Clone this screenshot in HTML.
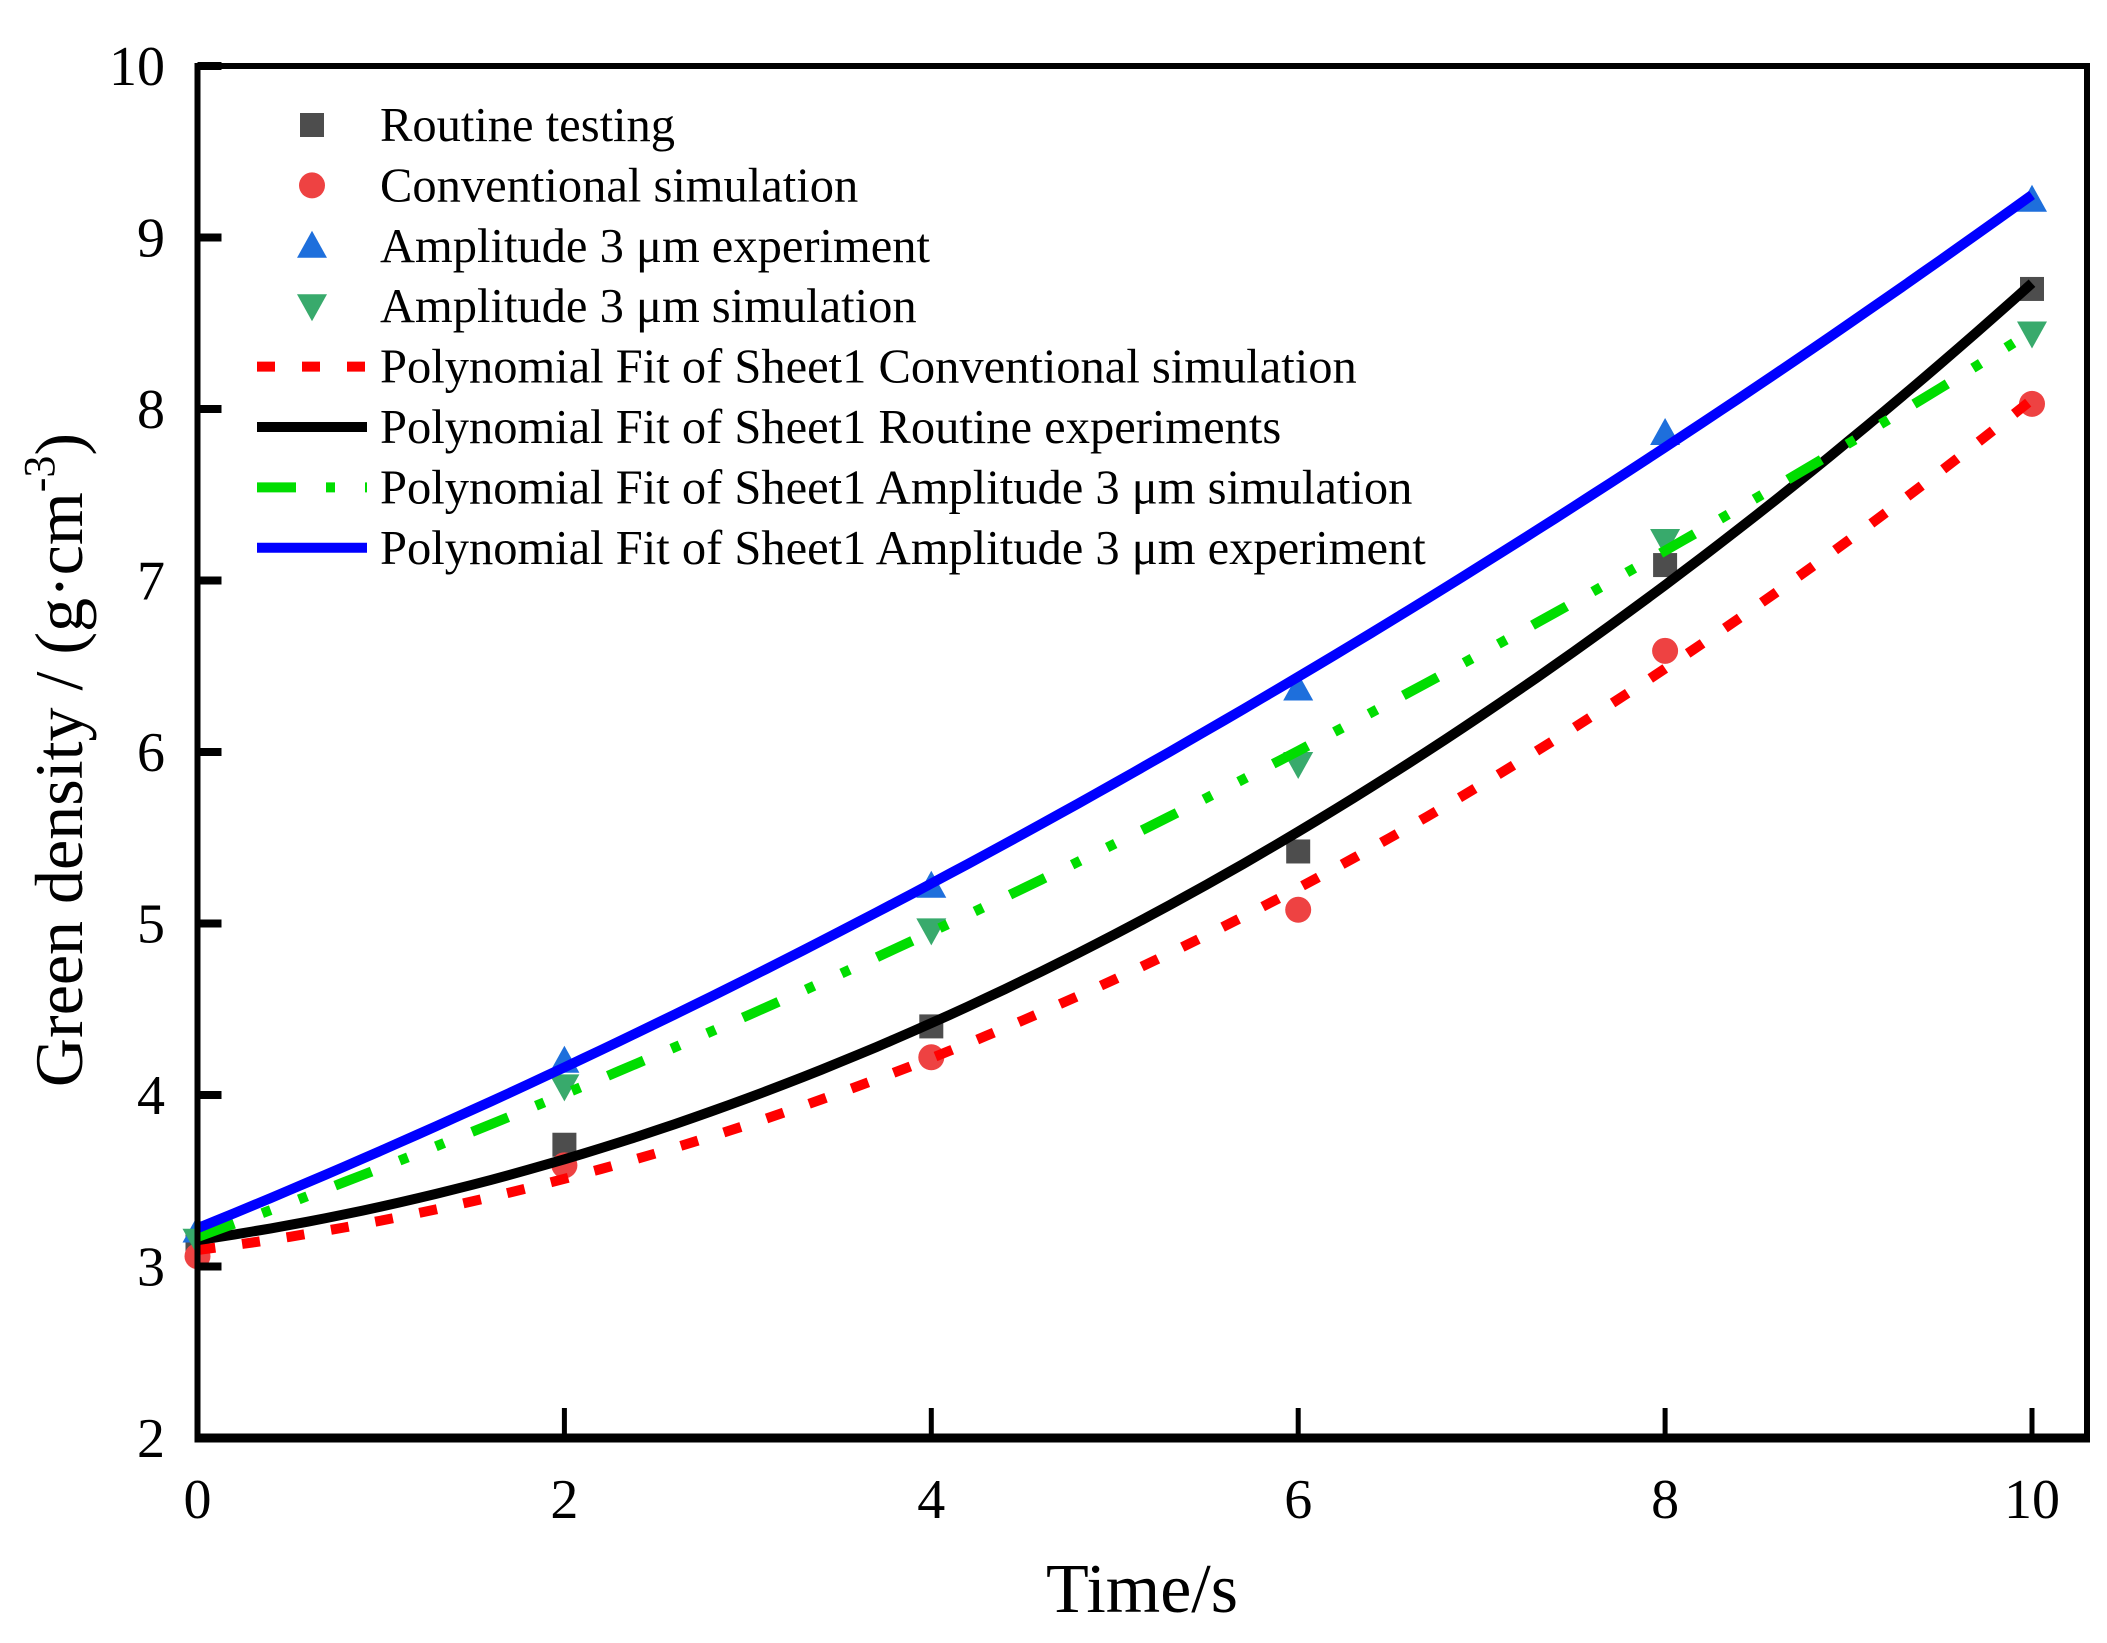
<!DOCTYPE html>
<html><head><meta charset="utf-8"><style>
html,body{margin:0;padding:0;background:#fff;}
svg{display:block;font-family:"Liberation Serif",serif;}
</style></head><body>
<svg id="chart" width="2107" height="1643" viewBox="0 0 2107 1643">
<g id="marks"></g>
<g id="fits"></g>
<g id="axes"></g>
<g id="legend"></g>
</svg>
<script>
const xValues = [0, 2, 4, 6, 8, 10];
const routineTesting = [3.12, 3.71, 4.40, 5.42, 7.09, 8.70];
const conventionalSim = [3.06, 3.59, 4.22, 5.08, 6.59, 8.03];
const ampExperiment = [3.21, 4.20, 5.22, 6.37, 7.86, 9.22];
const ampSimulation = [3.15, 4.05, 4.96, 5.93, 7.23, 8.44];
const xTicks = [0, 2, 4, 6, 8, 10];
const yTicks = [2, 3, 4, 5, 6, 7, 8, 9, 10];
const legendLabels = ["Routine testing","Conventional simulation","Amplitude 3 \u03bcm experiment","Amplitude 3 \u03bcm simulation","Polynomial Fit of Sheet1 Conventional simulation","Polynomial Fit of Sheet1 Routine experiments","Polynomial Fit of Sheet1 Amplitude 3 \u03bcm simulation","Polynomial Fit of Sheet1 Amplitude 3 \u03bcm experiment"];

const NS = "http://www.w3.org/2000/svg";
const X0 = 197.5, X1 = 2032, Y0 = 1438, Y1 = 66, FR = 2087;
function sx(v){ return X0 + (v - 0) / 10 * (X1 - X0); }
function sy(v){ return Y0 - (v - 2) / 8 * (Y0 - Y1); }
function mk(tag, attrs, parent){ const e = document.createElementNS(NS, tag); for (const k in attrs) e.setAttribute(k, attrs[k]); parent.appendChild(e); return e; }

function quadFit(xs, ys){
  let S=[0,0,0,0,0], T=[0,0,0];
  for (let i=0;i<xs.length;i++){ let p=1; for(let k=0;k<5;k++){S[k]+=p; if(k<3)T[k]+=p*ys[i]; p*=xs[i];} }
  const A=[[S[0],S[1],S[2],T[0]],[S[1],S[2],S[3],T[1]],[S[2],S[3],S[4],T[2]]];
  for(let i=0;i<3;i++){ for(let j=i+1;j<3;j++){ const f=A[j][i]/A[i][i]; for(let k=i;k<4;k++)A[j][k]-=f*A[i][k]; } }
  const c=[0,0,0];
  for(let i=2;i>=0;i--){ let s=A[i][3]; for(let k=i+1;k<3;k++)s-=A[i][k]*c[k]; c[i]=s/A[i][i]; }
  return x=>c[0]+c[1]*x+c[2]*x*x;
}

const marks = document.getElementById('marks');
function drawMarker(type, cx, cy, parent){
  let e;
  if (type==='square'){ e = mk('rect',{x:cx-12,y:cy-12,width:24,height:24,fill:'#4d4d4d'},parent); }
  else if (type==='circle'){ e = mk('circle',{cx:cx,cy:cy,r:13,fill:'#ee4242'},parent); }
  else if (type==='up'){ e = mk('polygon',{points:`${cx},${cy-15} ${cx-15},${cy+12} ${cx+15},${cy+12}`,fill:'#1e6fdc'},parent); }
  else { e = mk('polygon',{points:`${cx},${cy+15} ${cx-15},${cy-12} ${cx+15},${cy-12}`,fill:'#38aa6c'},parent); }
  return e;
}
const series = [
  {vals: routineTesting, type:'square', name:'routine-testing-point'},
  {vals: conventionalSim, type:'circle', name:'conventional-simulation-point'},
  {vals: ampExperiment, type:'up', name:'amplitude-experiment-point'},
  {vals: ampSimulation, type:'down', name:'amplitude-simulation-point'}
];
series.forEach(s=>{
  s.vals.forEach((v,i)=>{
    const e = drawMarker(s.type, sx(xValues[i]), sy(v), marks);
    
    
  });
});

const fits = document.getElementById('fits');
const fitDefs = [
  {vals: conventionalSim, color:'#ff0000', dash:'18 27', name:'conventional-simulation-fit'},
  {vals: routineTesting, color:'#000000', dash:'', name:'routine-experiments-fit'},
  {vals: ampSimulation, color:'#00dd00', dash:'39 30 9 30 9 30', name:'amplitude-simulation-fit'},
  {vals: ampExperiment, color:'#0000ff', dash:'', name:'amplitude-experiment-fit'}
];
fitDefs.forEach(f=>{
  const fn = quadFit(xValues, f.vals);
  let d='';
  for(let i=0;i<=100;i++){ const x=i/10; d += (i?'L':'M') + sx(x).toFixed(1) + ' ' + sy(fn(x)).toFixed(1); }
  const p = mk('path',{d:d,fill:'none',stroke:f.color,'stroke-width':10,'stroke-dasharray':f.dash},fits);
  
  
});

const axes = document.getElementById('axes');
const frame = mk('rect',{x:X0,y:Y1,width:FR-X0,height:Y0-Y1,fill:'none',stroke:'#000','stroke-width':6},axes);


const bottomAxis = mk('line',{x1:X0-3,y1:Y0,x2:FR+3,y2:Y0,stroke:'#000','stroke-width':9},axes);


xTicks.forEach(t=>{
  const l = mk('line',{x1:sx(t),y1:Y0,x2:sx(t),y2:Y0-30,stroke:'#000','stroke-width':5},axes);
  
  
  const tx = mk('text',{x:sx(t),y:1518,'font-size':56,'text-anchor':'middle'},axes);
  tx.textContent = t;
  
  
});
yTicks.forEach(t=>{
  const l = mk('line',{x1:X0,y1:sy(t),x2:X0+24,y2:sy(t),stroke:'#000','stroke-width':8},axes);
  
  
  const tx = mk('text',{x:165,y:sy(t)+19,'font-size':56,'text-anchor':'end'},axes);
  tx.textContent = t;
  
  
});
const xt = mk('text',{x:1142,y:1612,'font-size':70,'text-anchor':'middle'},axes);
xt.textContent = 'Time/s';


const yt = mk('text',{x:0,y:0,'font-size':68,'text-anchor':'middle',transform:'translate(82 760) rotate(-90)'},axes);
yt.innerHTML = 'Green density / (g\u00b7cm<tspan dy="-28" font-size="44">-3</tspan><tspan dy="28">)</tspan>';



const legend = document.getElementById('legend');
const types = ['square','circle','up','down'];
legendLabels.forEach((lab,i)=>{
  const cy = 125 + i*60.4;
  const g = mk('g',{},legend);
  
  
  if (i<4){ drawMarker(types[i], 312, cy, g); }
  else { const f = fitDefs[i-4]; mk('line',{x1:257,y1:cy,x2:367,y2:cy,stroke:f.color,'stroke-width':10,'stroke-dasharray':f.dash},g); }
  const t = mk('text',{x:380,y:cy+16,'font-size':48.5},g);
  t.textContent = lab;
});
</script>
</body></html>
